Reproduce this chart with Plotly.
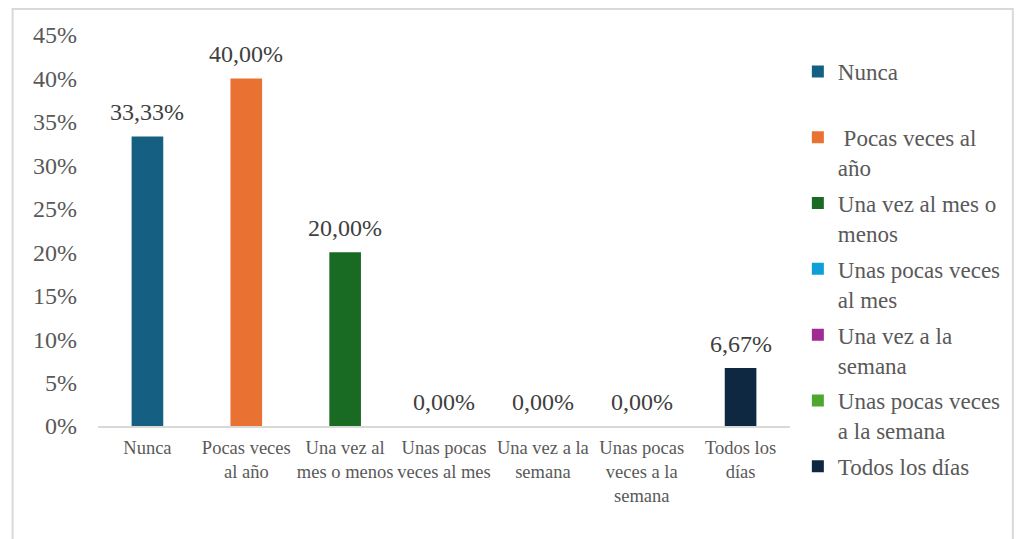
import plotly.graph_objects as go

# Frequency categories (legend names) and their shares
categories = [
    "Nunca",
    "Pocas veces al año",
    "Una vez al mes o menos",
    "Unas pocas veces al mes",
    "Una vez a la semana",
    "Unas pocas veces a la semana",
    "Todos los días",
]
values = [0.3333, 0.40, 0.20, 0.0, 0.0, 0.0, 0.0667]

# Axis tick labels (wrapped) and legend labels (wrapped)
tick_labels = [
    "Nunca",
    "Pocas veces<br>al año",
    "Una vez al<br>mes o menos",
    "Unas pocas<br>veces al mes",
    "Una vez a la<br>semana",
    "Unas pocas<br>veces a la<br>semana",
    "Todos los<br>días",
]
legend_labels = [
    "Nunca<br>\u00a0",
    "\u00a0Pocas veces al<br>año",
    "Una vez al mes o<br>menos",
    "Unas pocas veces<br>al mes",
    "Una vez a la<br>semana",
    "Unas pocas veces<br>a la semana",
    "Todos los días",
]
colors = ["#156082", "#E97132", "#196B24", "#0F9ED5", "#A02B93", "#4EA72E", "#0E2841"]

y_ticks = [0, 0.05, 0.10, 0.15, 0.20, 0.25, 0.30, 0.35, 0.40, 0.45]
y_tick_text = [f"{round(v * 100)}%" for v in y_ticks]

FONT = "Times New Roman, Liberation Serif, DejaVu Serif, serif"
GREY_TEXT = "#595959"

fig = go.Figure()
for cat, val, col, leg in zip(categories, values, colors, legend_labels):
    fig.add_trace(go.Bar(
        x=[cat], y=[val], name=leg, marker=dict(color=col, line=dict(width=0)),
        width=0.32, legendgroup=cat, hoverinfo="skip",
    ))

# Value labels above each bar
for cat, val in zip(categories, values):
    fig.add_annotation(
        x=cat, y=val, xref="x", yref="y",
        text=f"{val * 100:.2f}".replace(".", ",") + "%",
        showarrow=False, yanchor="bottom", yshift=9,
        font=dict(family=FONT, size=24, color="#404040"),
    )

# Plot area: 98..803 px horizontally, 35..426 px vertically
L, R, T, B = 98, 215, 35, 113
W, H = 1018, 539
pw, ph = W - L - R, H - T - B


def px_x(p):
    return (p - L) / pw


def px_y(p):
    return (H - B - p) / ph


# Light grey chart frame
fig.add_shape(
    type="rect", xref="paper", yref="paper",
    x0=px_x(11), x1=px_x(1030), y0=px_y(570), y1=px_y(9),
    line=dict(color="#d9d9d9", width=2), fillcolor="rgba(0,0,0,0)", layer="below",
)

fig.update_layout(
    width=W, height=H,
    margin=dict(l=L, r=R, t=T, b=B),
    paper_bgcolor="white", plot_bgcolor="white",
    barmode="overlay",
    font=dict(family=FONT, color=GREY_TEXT),
    showlegend=True,
    legend=dict(
        x=px_x(811), xanchor="left",
        y=px_y(50), yanchor="top",
        font=dict(family=FONT, size=23, color=GREY_TEXT),
        valign="top", traceorder="grouped", tracegroupgap=3,
        bgcolor="rgba(0,0,0,0)", maxheight=530,
    ),
    xaxis=dict(
        type="category", categoryorder="array", categoryarray=categories,
        tickmode="array", tickvals=categories, ticktext=tick_labels,
        tickfont=dict(family=FONT, size=18.5, color=GREY_TEXT),
        showline=True, linecolor="#d9d9d9", linewidth=2,
        showgrid=False, ticks="", ticklabelstandoff=4, fixedrange=True,
    ),
    yaxis=dict(
        range=[0, 0.45], tickmode="array", tickvals=y_ticks, ticktext=y_tick_text,
        tickfont=dict(family=FONT, size=24, color=GREY_TEXT),
        showgrid=False, zeroline=False, showline=False, ticks="",
        ticklabelstandoff=20, fixedrange=True,
    ),
)

fig.write_html("out.html")
